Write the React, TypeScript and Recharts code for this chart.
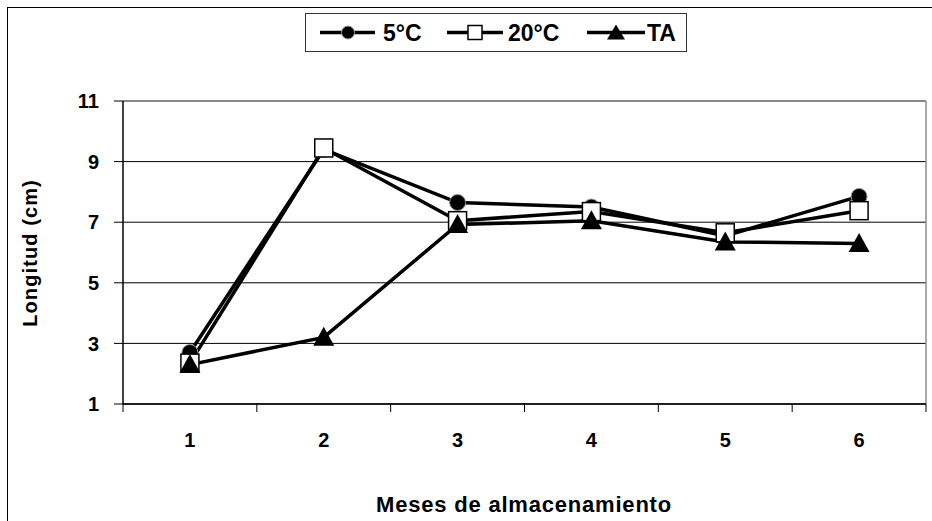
import React from "react";
import {
  LineChart,
  Line,
  XAxis,
  YAxis,
  CartesianGrid,
  ReferenceLine,
} from "recharts";

// Longitud media por mes de almacenamiento y condición
const months = [1, 2, 3, 4, 5, 6];
const serie5C = [2.7, 9.4, 7.65, 7.5, 6.55, 7.85];
const serie20C = [2.35, 9.45, 7.05, 7.35, 6.65, 7.38];
const serieTA = [2.3, 3.2, 6.92, 7.05, 6.35, 6.3];
const yTicks = [1, 3, 5, 7, 9, 11];
// Etiquetas en los meses, marcas de división entre categorías
const xTicks = [0.5, 1, 1.5, 2, 2.5, 3, 3.5, 4, 4.5, 5, 5.5, 6, 6.5];

const data = months.map((m, i) => ({
  mes: m,
  c5: serie5C[i],
  c20: serie20C[i],
  ta: serieTA[i],
}));

const FONT = "Arial, 'Liberation Sans', sans-serif";

/* ── Marcadores ─────────────────────────────────────────── */
function CircleDot(props: any) {
  const { cx, cy, index } = props;
  return (
    <circle
      key={`c5-${index}`}
      cx={cx}
      cy={cy}
      r={8}
      fill="#000"
      stroke="#9a9a9a"
      strokeWidth={1}
    />
  );
}

function SquareDot(props: any) {
  const { cx, cy, index } = props;
  const s = 18;
  return (
    <rect
      key={`c20-${index}`}
      x={cx - s / 2}
      y={cy - s / 2}
      width={s}
      height={s}
      fill="#fff"
      stroke="#000"
      strokeWidth={1.5}
    />
  );
}

function TriangleDot(props: any) {
  const { cx, cy, index } = props;
  const w = 21;
  const h = 19;
  return (
    <polygon
      key={`ta-${index}`}
      points={`${cx},${cy - h / 2 - 1} ${cx - w / 2},${cy + h / 2 - 1} ${cx + w / 2},${cy + h / 2 - 1}`}
      fill="#000"
    />
  );
}

function MonthTick(props: any) {
  const { x, y, payload } = props;
  const v = payload.value as number;
  if (Number.isInteger(v)) {
    return (
      <text
        x={x}
        y={y + 43}
        textAnchor="middle"
        fontFamily={FONT}
        fontWeight="bold"
        fontSize={20}
        fill="#000"
      >
        {v}
      </text>
    );
  }
  return <line x1={x} y1={y} x2={x} y2={y + 8} stroke="#000" strokeWidth={1} />;
}

function Legend() {
  const lineY = 19.5;
  const textStyle = {
    fontFamily: FONT,
    fontWeight: "bold" as const,
    fontSize: 23,
  };
  return (
    <div
      style={{
        position: "absolute",
        left: 305,
        top: 13,
        width: 382,
        height: 39,
        border: "1px solid #333",
        background: "#fff",
        boxSizing: "border-box",
      }}
    >
      <svg width={382} height={39} style={{ position: "absolute", left: -1, top: -1 }}>
        <line x1={15} y1={lineY} x2={70} y2={lineY} stroke="#000" strokeWidth={3.5} />
        <circle cx={43} cy={lineY} r={6.5} fill="#000" stroke="#9a9a9a" strokeWidth={1} />
        <text x={78} y={28} {...textStyle}>
          5°C
        </text>

        <line x1={142} y1={lineY} x2={198} y2={lineY} stroke="#000" strokeWidth={3.5} />
        <rect x={163} y={lineY - 7} width={14} height={14} fill="#fff" stroke="#000" strokeWidth={1.5} />
        <text x={203} y={28} {...textStyle}>
          20°C
        </text>

        <line x1={282} y1={lineY} x2={340} y2={lineY} stroke="#000" strokeWidth={3.5} />
        <polygon
          points={`311,${lineY - 8} ${302},${lineY + 7} ${320},${lineY + 7}`}
          fill="#000"
        />
        <text x={342} y={28} {...textStyle}>
          TA
        </text>
      </svg>
    </div>
  );
}

export default function App() {
  return (
    <div
      style={{
        position: "absolute",
        left: 0,
        top: 0,
        width: 932,
        height: 521,
        background: "#fff",
        overflow: "hidden",
      }}
    >
      {/* Marco exterior */}
      <div
        style={{
          position: "absolute",
          left: 7,
          top: 7,
          width: 960,
          height: 560,
          border: "1px solid #000",
        }}
      />

      <div style={{ position: "absolute", left: 0, top: 0 }}>
        <LineChart
          width={932}
          height={521}
          data={data}
          margin={{ top: 101, right: 6, bottom: 0, left: 0 }}
        >
          <CartesianGrid vertical={false} stroke="#000" strokeWidth={1} />
          <ReferenceLine y={11} stroke="#8c8c8c" strokeWidth={1.5} />
          <ReferenceLine
            segment={[
              { x: 6.5, y: 11 },
              { x: 6.5, y: 1 },
            ]}
            stroke="#8c8c8c"
            strokeWidth={1.5}
          />

          <XAxis
            dataKey="mes"
            type="number"
            domain={[0.5, 6.5]}
            ticks={xTicks}
            interval={0}
            height={117}
            tickSize={0}
            tickMargin={0}
            tickLine={false}
            axisLine={{ stroke: "#000", strokeWidth: 1.5 }}
            tick={<MonthTick />}
            label={{
              content: () => (
                <text
                  x={524}
                  y={512}
                  textAnchor="middle"
                  fontFamily={FONT}
                  fontWeight="bold"
                  fontSize={22}
                  letterSpacing={0.8}
                  fill="#000"
                >
                  Meses de almacenamiento
                </text>
              ),
            }}
          />
          <YAxis
            type="number"
            domain={[1, 11]}
            ticks={yTicks}
            interval={0}
            width={123}
            tickSize={9}
            tickMargin={15}
            tickLine={{ stroke: "#000" }}
            axisLine={{ stroke: "#000", strokeWidth: 1.5 }}
            tick={{ fontFamily: FONT, fontWeight: "bold", fontSize: 20, fill: "#000" }}
            label={{
              content: () => (
                <text
                  x={30}
                  y={253}
                  transform="rotate(-90 30 253)"
                  textAnchor="middle"
                  dominantBaseline="central"
                  fontFamily={FONT}
                  fontWeight="bold"
                  fontSize={20}
                  letterSpacing={1.1}
                  fill="#000"
                >
                  Longitud (cm)
                </text>
              ),
            }}
          />

          <Line
            dataKey="c5"
            stroke="#000"
            strokeWidth={3.5}
            dot={<CircleDot />}
            activeDot={false}
            isAnimationActive={false}
          />
          <Line
            dataKey="c20"
            stroke="#000"
            strokeWidth={3.5}
            dot={<SquareDot />}
            activeDot={false}
            isAnimationActive={false}
          />
          <Line
            dataKey="ta"
            stroke="#000"
            strokeWidth={3.5}
            dot={<TriangleDot />}
            activeDot={false}
            isAnimationActive={false}
          />
        </LineChart>
      </div>

      <Legend />
    </div>
  );
}
